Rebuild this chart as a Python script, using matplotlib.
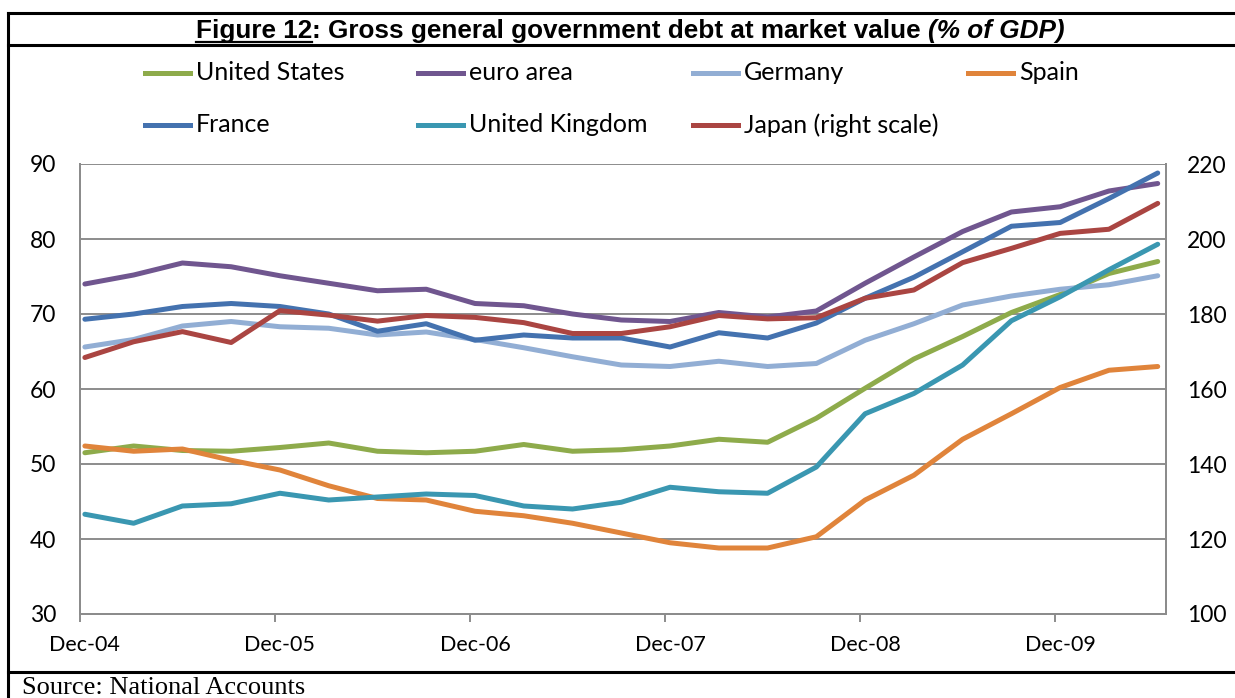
import matplotlib
matplotlib.use("Agg")
import matplotlib.pyplot as plt
from matplotlib.lines import Line2D

# ---------------- data ----------------
quarters = list(range(23))  # Dec-04 ... Jun-10, quarterly
tick_labels = ["Dec-04", "Dec-05", "Dec-06", "Dec-07", "Dec-08", "Dec-09"]
tick_quarters = [0, 4, 8, 12, 16, 20]

united_states = [51.5, 52.4, 51.8, 51.7, 52.2, 52.8, 51.7, 51.5, 51.7, 52.6, 51.7, 51.9,
                 52.4, 53.3, 52.9, 56.1, 60.1, 64.0, 67.0, 70.2, 72.6, 75.4, 77.0]
euro_area = [74.0, 75.2, 76.8, 76.3, 75.1, 74.1, 73.1, 73.3, 71.4, 71.1, 70.0, 69.2,
             69.0, 70.2, 69.6, 70.4, 74.1, 77.6, 81.0, 83.6, 84.3, 86.4, 87.4]
germany = [65.6, 66.6, 68.4, 69.0, 68.3, 68.1, 67.2, 67.6, 66.6, 65.5, 64.3, 63.2,
           63.0, 63.7, 63.0, 63.4, 66.5, 68.7, 71.2, 72.4, 73.3, 73.9, 75.1]
spain = [52.4, 51.7, 52.0, 50.5, 49.2, 47.1, 45.4, 45.2, 43.7, 43.1, 42.1, 40.8,
         39.5, 38.8, 38.8, 40.3, 45.2, 48.5, 53.3, 56.7, 60.2, 62.5, 63.0]
france = [69.3, 70.0, 71.0, 71.4, 71.0, 70.0, 67.7, 68.7, 66.5, 67.2, 66.8, 66.8,
          65.6, 67.5, 66.8, 68.8, 72.1, 74.9, 78.3, 81.7, 82.2, 85.4, 88.8]
united_kingdom = [43.3, 42.1, 44.4, 44.7, 46.1, 45.2, 45.6, 46.0, 45.8, 44.4, 44.0, 44.9,
                  46.9, 46.3, 46.1, 49.6, 56.7, 59.4, 63.2, 69.1, 72.3, 75.9, 79.3]
japan = [168.4, 172.6, 175.3, 172.4, 180.9, 179.7, 178.1, 179.6, 179.1, 177.7, 174.8, 174.8,
         176.6, 179.6, 178.7, 179.0, 184.2, 186.4, 193.7, 197.5, 201.5, 202.6, 209.5]

series_names = ["United States", "euro area", "Germany", "Spain",
                "France", "United Kingdom", "Japan (right scale)"]

# ---------------- style ----------------
colors = {
    "United States": "#8EAB4B",
    "euro area": "#70568F",
    "Germany": "#92AED4",
    "Spain": "#E0843B",
    "France": "#4472AF",
    "United Kingdom": "#3A97B1",
    "Japan (right scale)": "#AA4542",
}
LW = 3.6
GRID = "#8C8C8C"
UIFONT = ["Lato", "DejaVu Sans"]

W, H = 1235, 698
fig = plt.figure(figsize=(W / 100, H / 100), dpi=100)

def fx(px):
    return px / W

def fy(py):
    return 1 - py / H

# outer frame lines
frame_kw = dict(color="black", lw=2.2, transform=fig.transFigure, clip_on=False)
fig.add_artist(Line2D([fx(8), fx(8)], [fy(13), fy(698)], **frame_kw))
fig.add_artist(Line2D([fx(8), 1], [fy(13), fy(13)], **frame_kw))
fig.add_artist(Line2D([fx(8), 1], [fy(45), fy(45)], **frame_kw))
fig.add_artist(Line2D([fx(8), 1], [fy(672), fy(672)], **frame_kw))

# axes
ax = fig.add_axes([fx(80), fy(614), fx(1166) - fx(80), fy(164) - fy(614)])
ax2 = ax.twinx()

series_left = {
    "United States": united_states,
    "euro area": euro_area,
    "Germany": germany,
    "Spain": spain,
    "France": france,
    "United Kingdom": united_kingdom,
}
for name, vals in series_left.items():
    ax.plot(quarters, vals, color=colors[name], lw=LW,
            solid_capstyle="round", solid_joinstyle="round", zorder=3)
ax2.plot(quarters, japan, color=colors["Japan (right scale)"], lw=LW,
         solid_capstyle="round", solid_joinstyle="round", zorder=3)

ax.set_ylim(30, 90)
ax2.set_ylim(100, 220)
ax.set_yticks([30, 40, 50, 60, 70, 80, 90])
ax2.set_yticks([100, 120, 140, 160, 180, 200, 220])
x_off = 0.1
ax.set_xlim(-x_off, 22.17)
ax.grid(axis="y", color=GRID, lw=1.4)
ax.set_axisbelow(True)

# tick marks slightly left of data point; labels centred on points
ax.set_xticks([q - x_off for q in tick_quarters])
ax.set_xticklabels([])
ax.tick_params(axis="x", direction="out", length=6, width=1.4, color=GRID)
for q, lab in zip(tick_quarters, tick_labels):
    ax.text(q, 25.9, lab, ha="center", va="center", fontsize=15.5,
            family=UIFONT, color="black")

ax.tick_params(axis="y", length=0, labelsize=16.5, pad=17)
ax2.tick_params(axis="y", length=0, labelsize=16.5, pad=15)
for lab in ax.get_yticklabels() + ax2.get_yticklabels():
    lab.set_family(UIFONT)

for a in (ax, ax2):
    a.spines["top"].set_visible(False)
    for s in ("left", "right", "bottom"):
        a.spines[s].set_color(GRID)
        a.spines[s].set_linewidth(1.4)

# legend (manual placement to match layout)
leg_cols_x = [145, 418, 693, 968]
leg_rows_y = [73, 125]
for i, name in enumerate(series_names):
    r, c = divmod(i, 4)
    x0 = leg_cols_x[c]
    y0 = leg_rows_y[r]
    fig.add_artist(Line2D([fx(x0), fx(x0 + 45)], [fy(y0), fy(y0)],
                          color=colors[name], lw=LW, transform=fig.transFigure))
    fig.text(fx(x0 + 51), fy(y0), name, ha="left", va="center",
             fontsize=18, family=UIFONT)

# title with mixed styles
parts = [("Figure 12", "normal", True),
         (": Gross general government debt at market value ", "normal", False),
         ("(% of GDP)", "italic", False)]
ty = fy(31)
texts = []
for s, style, _ in parts:
    t = fig.text(0, ty, s, fontsize=18.8, fontweight="bold", style=style,
                 family=["Liberation Sans", "DejaVu Sans"], va="center", ha="left")
    texts.append(t)
fig.canvas.draw()
renderer = fig.canvas.get_renderer()
widths = [t.get_window_extent(renderer).width for t in texts]
total = sum(widths)
xcur = 630 - total / 2
for t, w, (s, style, ul) in zip(texts, widths, parts):
    t.set_x(xcur / W)
    if ul:
        fig.add_artist(Line2D([xcur / W, (xcur + w) / W], [fy(42), fy(42)],
                              color="black", lw=1.6, transform=fig.transFigure))
    xcur += w

# source
fig.text(fx(22), fy(688), "Source: National Accounts", ha="left", va="center",
         fontsize=19, family=["Liberation Serif", "DejaVu Serif"])

fig.savefig("out.png", dpi=100)
